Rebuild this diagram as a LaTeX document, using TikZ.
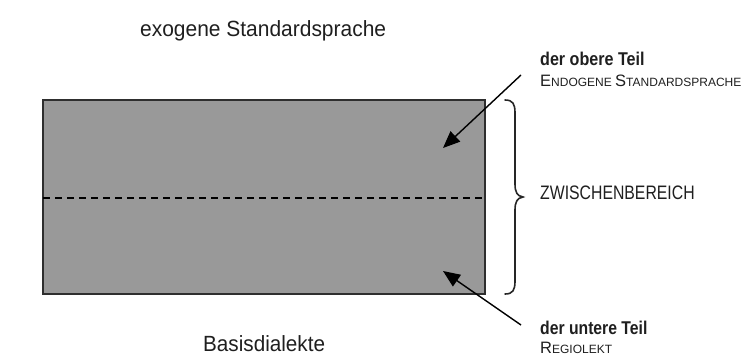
\documentclass[tikz,border=0pt]{standalone}
\usepackage{fontspec}
\usepackage{graphicx}
\setmainfont{Liberation Sans}
\usetikzlibrary{arrows.meta}
\newcommand{\scBig}[1]{{\fontsize{16.5}{16.5}\selectfont #1}}
\newcommand{\scSmall}[1]{{\fontsize{12}{12}\selectfont #1}}
\newcommand{\narrow}[2]{\scalebox{#1}[1]{#2}}
\begin{document}
\begin{tikzpicture}[x=1pt,y=-1pt,
  label/.style={inner sep=0pt,anchor=base west,text=black!88},
  pointer/.style={draw=black,line width=1.4pt,-{Triangle[length=17pt,width=14pt]}},
  bracepath/.style={draw=black!85,line width=1.6pt,line cap=round}]
\useasboundingbox (0,0) rectangle (751,362);

% grey field with its two halves
\draw[fill=black!40,draw=black!82,line width=2pt] (43,100) rectangle (485,294);
\coordinate (midL) at (43,198);
\coordinate (midR) at (484,198);
\draw[black,line width=1.3pt,dash pattern=on 7pt off 5pt] (midL) -- (midR);

% titles above and below
\node[label,font=\fontsize{22}{22}\selectfont] (exo) at (140,36) {\narrow{0.953}{exogene Standardsprache}};
\node[label,font=\fontsize{22}{22}\selectfont] (basis) at (203,351) {\narrow{0.94}{Basisdialekte}};

% labels on the right
\node[label,font=\fontsize{18.5}{18.5}\selectfont\bfseries] (oben) at (540,65) {\narrow{0.87}{der obere Teil}};
\node[label] (endo) at (540,86) {\scBig{E}\scSmall{NDOGENE }\scBig{S}\scSmall{TANDARDSPRACHE}};
\node[label,font=\fontsize{19.5}{19.5}\selectfont] (zwischen) at (540,199) {\narrow{0.81}{ZWISCHENBEREICH}};
\node[label,font=\fontsize{18.5}{18.5}\selectfont\bfseries] (unten) at (540,334) {\narrow{0.85}{der untere Teil}};
\node[label] (regio) at (540,353) {\scBig{R}\scSmall{EGIOLEKT}};

% pointers into the two halves
\coordinate (p1start) at (521,75);
\coordinate (p1end) at (443,148);
\coordinate (p2start) at (521,325);
\coordinate (p2end) at (443,271);
\draw[pointer] (p1start) -- (p1end);
\draw[pointer] (p2start) -- (p2end);

% curly brace spanning the field
\coordinate (bTop) at (505,100);
\coordinate (bTip) at (523,197);
\coordinate (bBot) at (505,294);
\draw[bracepath] (bTop) .. controls (513,100) and (515,104) .. (515,113)
  -- (515,184) .. controls (515,192) and (517,196) .. (bTip)
  .. controls (517,198) and (515,202) .. (515,210)
  -- (515,281) .. controls (515,290) and (513,294) .. (bBot);
\end{tikzpicture}
\end{document}
